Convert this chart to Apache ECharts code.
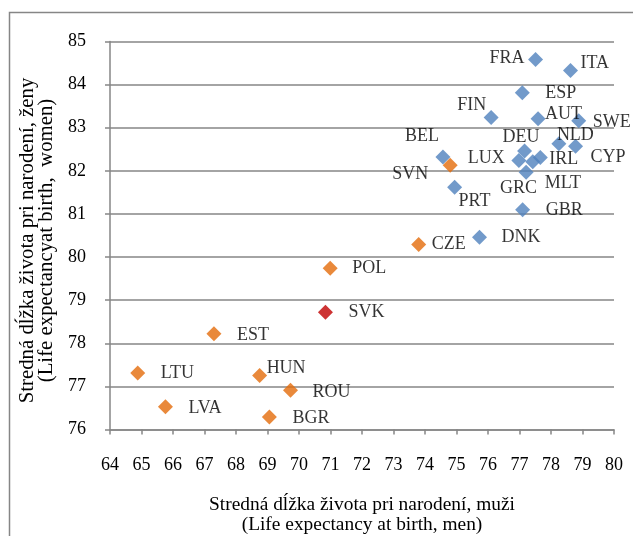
<!DOCTYPE html>
<html>
<head>
<meta charset="utf-8">
<script src="https://cdn.jsdelivr.net/npm/echarts@6/dist/echarts.min.js"></script>
<style>
  html, body { margin: 0; padding: 0; background: #fff; }
  #chart { width: 633px; height: 536px; }
</style>
</head>
<body>
<div id="chart"></div>
<script>
  // countries EU15 + CYP, MLT (blue)
  const oldNames = ['FRA', 'ITA', 'ESP', 'FIN', 'AUT', 'SWE', 'NLD', 'CYP', 'DEU', 'BEL', 'LUX', 'IRL', 'MLT', 'GRC', 'PRT', 'GBR', 'DNK']
  const oldMen   = [77.51, 78.62, 77.09, 76.10, 77.59, 78.88, 78.25, 78.78, 77.16, 74.57, 76.98, 77.66, 77.42, 77.21, 74.94, 77.10, 75.73]
  const oldWomen = [84.58, 84.33, 83.81, 83.24, 83.21, 83.16, 82.63, 82.57, 82.46, 82.32, 82.24, 82.31, 82.21, 81.97, 81.62, 81.10, 80.46]

  // new member states (orange)
  const newNames = ['SVN', 'CZE', 'POL', 'EST', 'LTU', 'HUN', 'ROU', 'LVA', 'BGR']
  const newMen   = [74.80, 73.80, 70.99, 67.30, 64.88, 68.75, 69.73, 65.76, 69.06]
  const newWomen = [82.13, 80.29, 79.74, 78.22, 77.31, 77.25, 76.91, 76.53, 76.29]

  // Slovensko (red)
  const svkNames = ['SVK']
  const svkMen   = [70.84]
  const svkWomen = [78.72]

  // label placement: [dx from point to text left, dy to text middle]
  const labelOffset = {
    FRA: [-46, -1], ITA: [10, -7], ESP: [23, 0], FIN: [-34, -12], AUT: [7, -4],
    SWE: [14, 1], NLD: [-2, -8], CYP: [15, 11], DEU: [-22, -14], BEL: [-38, -21],
    LUX: [-51, -2], IRL: [9, 2], MLT: [12, 21], GRC: [-26, 16], PRT: [4, 14],
    GBR: [23, 1], DNK: [22, 0], SVN: [-58, 9], CZE: [13, 0], POL: [22, 0],
    SVK: [23, 0], EST: [23, 1], LTU: [23, 0], HUN: [7, -7], ROU: [22, 2],
    LVA: [23, 2], BGR: [23, 1]
  }

  const font = '"Liberation Serif", "Times New Roman", serif'
  const symSize = 15

  function points(names, xs, ys) {
    return names.map((n, i) => {
      const off = labelOffset[n] || [20, 0]
      return {
        name: n,
        value: [xs[i], ys[i]],
        label: { offset: [off[0] - symSize / 2, off[1]] }
      }
    })
  }

  function series(name, color, data) {
    return {
      name: name,
      type: 'scatter',
      symbol: 'diamond',
      symbolSize: symSize,
      itemStyle: { color: color },
      label: {
        show: true,
        position: 'right',
        distance: 0,
        align: 'left',
        verticalAlign: 'middle',
        formatter: '{b}',
        fontFamily: font,
        fontSize: 18,
        color: '#000'
      },
      data: data
    }
  }

  const chart = echarts.init(document.getElementById('chart'))

  let option = {
    animation: false,
    backgroundColor: '#fff',
    graphic: [{
      type: 'rect',
      shape: { x: 9.5, y: 12.5, width: 640, height: 540 },
      style: { fill: 'none', stroke: '#868686', lineWidth: 1.5 },
      silent: true
    }],
    grid: { left: 110, right: 19, top: 41.5, bottom: 106.5, outerBoundsMode: 'none', containLabel: false },
    xAxis: {
      type: 'value',
      min: 64,
      max: 80,
      interval: 1,
      name: 'Stredná dĺžka života pri narodení, muži\n(Life expectancy at birth, men)',
      nameLocation: 'middle',
      nameGap: 65,
      nameTextStyle: { fontFamily: font, fontSize: 19.4, color: '#000', lineHeight: 20 },
      axisLine: { lineStyle: { color: '#868686', width: 1.5 } },
      axisTick: { show: true, length: 5, lineStyle: { color: '#868686', width: 1.5 } },
      axisLabel: { fontFamily: font, fontSize: 18, color: '#000', margin: 27 },
      splitLine: { show: false }
    },
    yAxis: {
      type: 'value',
      min: 76,
      max: 85,
      interval: 1,
      name: 'Stredná dĺžka života pri narodení, ženy\n(Life expectancyat birth,  women)',
      nameLocation: 'middle',
      nameGap: 47,
      nameTextStyle: { fontFamily: font, fontSize: 20.8, color: '#000', lineHeight: 18.6, padding: [0, 10, 0, 0] },
      axisLine: { show: true, lineStyle: { color: '#868686', width: 1.5 } },
      axisTick: { show: true, length: 5, lineStyle: { color: '#868686', width: 1.5 } },
      axisLabel: { fontFamily: font, fontSize: 18, color: '#000', margin: 24 },
      splitLine: { show: true, lineStyle: { color: '#868686', width: 1.5 } }
    },
    series: [
      series('EU15', '#4F81BD', points(oldNames, oldMen, oldWomen)),
      series('EU12', '#E46C0A', points(newNames, newMen, newWomen)),
      series('SVK', '#C00000', points(svkNames, svkMen, svkWomen))
    ]
  }

  chart.setOption(option)
</script>
</body>
</html>
